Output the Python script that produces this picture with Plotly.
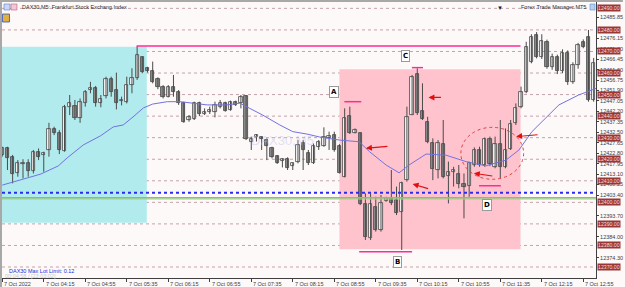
import plotly.graph_objects as go

# ---------------- data ----------------
opens = [12421.9,12425.0,12421.2,12413.8,12418.0,12418.1,12414.7,12423.2,12421.9,12424.3,
         12433.9,12432.0,12424.0,12444.1,12444.7,12439.0,12445.9,12452.1,12452.9,12445.9,
         12449.3,12457.1,12452.1,12446.8,12446.7,12454.4,12457.5,12467.3,12462.2,12461.1,
         12457.1,12453.7,12449.0,12453.3,12451.3,12446.2,12438.2,12438.5,12445.9,12441.0,
         12442.1,12442.1,12444.4,12445.9,12442.8,12446.7,12445.9,12449.3,12428.2,12430.1,
         12430.1,12428.9,12425.0,12421.6,12419.3,12420.1,12416.8,12418.9,12427.7,12423.0,
         12418.4,12425.8,12426.1,12429.7,12431.2,12426.1,12411.9,12440.0,12432.3,12432.0,
         12399.1,12383.3,12398.0,12387.1,12400.7,12401.8,12401.1,12395.6,12410.3,12440.5,
         12459.5,12442.5,12437.4,12427.4,12415.0,12427.0,12412.2,12414.2,12413.1,12408.5,
         12407.6,12417.3,12424.3,12417.3,12429.2,12416.5,12427.3,12416.2,12424.6,12436.6,
         12444.4,12451.3,12465.2,12477.5,12467.6,12474.5,12463.0,12467.5,12461.0,12469.5,
         12456.0,12463.5,12474.5,12476.9,12447.5]
highs = [12425.8,12425.8,12422.0,12419.6,12420.0,12420.0,12424.3,12425.0,12423.5,12436.9,
         12435.1,12433.5,12445.2,12449.8,12447.5,12448.2,12452.1,12455.9,12454.0,12449.8,
         12458.3,12458.3,12460.2,12449.0,12458.3,12462.2,12472.5,12467.6,12462.9,12465.3,
         12458.0,12454.4,12454.4,12459.1,12452.1,12446.7,12440.5,12446.7,12446.7,12443.6,
         12444.4,12446.7,12447.5,12446.7,12447.2,12447.2,12449.8,12449.8,12430.5,12431.7,
         12430.5,12429.7,12425.8,12421.9,12420.4,12420.9,12418.4,12428.9,12428.9,12424.3,
         12427.3,12428.9,12434.8,12432.8,12432.8,12427.0,12443.6,12444.4,12434.3,12432.3,
         12404.2,12404.2,12402.6,12403.4,12402.6,12415.0,12407.3,12409.6,12444.4,12459.1,
         12462.2,12455.2,12439.7,12429.7,12428.9,12438.2,12418.9,12416.5,12417.3,12413.4,
         12418.9,12425.5,12425.8,12430.1,12430.5,12430.5,12438.2,12434.3,12438.2,12445.9,
         12453.7,12474.5,12478.0,12479.0,12478.0,12475.5,12469.0,12468.5,12471.0,12470.5,
         12465.0,12474.0,12475.6,12480.0,12467.0]
lows = [12421.2,12415.0,12408.8,12411.9,12411.1,12411.9,12413.4,12419.6,12414.2,12421.2,
        12431.2,12422.4,12423.5,12440.5,12438.2,12436.9,12444.4,12450.6,12444.4,12444.1,
        12448.2,12449.0,12443.1,12445.0,12445.9,12450.6,12456.8,12459.9,12460.2,12455.2,
        12452.5,12448.2,12448.7,12449.0,12445.2,12436.9,12437.4,12438.2,12440.0,12440.5,
        12441.0,12439.4,12443.6,12442.1,12442.5,12444.7,12443.6,12428.9,12424.3,12428.2,
        12424.3,12419.6,12420.4,12417.8,12416.2,12415.0,12415.0,12418.1,12415.0,12417.3,
        12417.8,12424.3,12425.8,12424.3,12423.5,12413.4,12411.6,12431.7,12432.0,12398.7,
        12382.5,12382.5,12386.4,12386.4,12400.3,12398.7,12394.1,12377.9,12409.6,12440.5,
        12440.5,12438.2,12427.4,12410.3,12411.1,12411.1,12399.5,12407.3,12406.5,12392.6,
        12402.6,12416.5,12416.5,12416.5,12416.8,12415.8,12411.1,12415.8,12424.3,12435.9,
        12443.6,12450.6,12464.5,12466.8,12466.5,12462.0,12461.5,12459.5,12460.0,12454.5,
        12455.0,12462.0,12471.5,12446.7,12446.7]
closes = [12425.0,12420.4,12413.1,12418.1,12418.3,12414.7,12423.2,12420.9,12423.0,12433.9,
          12432.0,12424.3,12444.1,12445.9,12439.0,12446.7,12451.3,12452.9,12445.9,12447.8,
          12457.1,12451.3,12445.9,12447.5,12454.4,12457.5,12468.4,12460.6,12461.1,12456.0,
          12453.7,12449.0,12453.7,12451.3,12445.9,12437.4,12439.4,12445.9,12441.0,12442.1,
          12442.8,12445.2,12446.2,12442.5,12446.7,12445.2,12449.0,12429.2,12429.2,12431.2,
          12429.2,12426.1,12421.2,12418.1,12420.1,12416.1,12418.1,12426.6,12424.3,12418.1,
          12426.1,12428.1,12430.5,12430.8,12424.3,12413.7,12439.0,12432.0,12433.5,12399.1,
          12384.0,12399.1,12387.1,12399.8,12401.8,12399.5,12394.9,12409.1,12439.4,12458.3,
          12441.3,12438.5,12428.1,12415.3,12427.7,12411.9,12414.2,12415.0,12408.5,12407.3,
          12418.1,12424.3,12417.3,12429.2,12417.8,12427.3,12416.2,12424.3,12436.3,12443.6,
          12451.3,12472.2,12476.5,12467.6,12475.0,12463.0,12467.5,12461.0,12469.5,12456.0,
          12463.5,12473.0,12472.2,12447.5,12464.6]

# moving average (bar index, value)
ma_idx = [0,3.5,7.4,10.8,12.5,15.6,18.9,21.4,23.3,25.2,27.2,29,30.4,31.8,34.3,36.8,39.5,43.3,
          45.8,47.7,50.2,53.5,56,58.7,61.2,65,68.8,70.8,74,76.5,78.4,81.7,85.5,89.4,93.2,97.1,
          99.6,102.1,103.4,107.3,111.1,114.6]
ma_val = [12408.0,12410.4,12413.1,12416.9,12420.6,12426.6,12430.8,12435.0,12435.9,12439.6,
          12443.8,12445.6,12446.1,12446.7,12446.7,12446.0,12445.2,12445.2,12446.0,12443.6,
          12440.5,12435.9,12432.8,12431.7,12430.3,12428.9,12428.1,12423.5,12417.3,12413.7,
          12417.3,12422.4,12421.9,12418.9,12416.9,12419.6,12424.3,12432.8,12435.9,12445.2,
          12449.8,12453.0]

time_idx = [0,8,16,24,32,40,48,56,64,72,80,88,96,104,112]
time_labels = ["7 Oct 2022","7 Oct 04:15","7 Oct 04:55","7 Oct 05:35","7 Oct 06:15",
               "7 Oct 06:55","7 Oct 07:35","7 Oct 08:15","7 Oct 08:55","7 Oct 09:35",
               "7 Oct 10:15","7 Oct 10:55","7 Oct 11:35","7 Oct 12:15","7 Oct 12:55"]

# visible price scale labels (those hidden under the level boxes omitted)
price_ticks = [12374.30,12384.00,12393.70,12403.40,12408.25,
               12413.10,12417.95,12422.80,12427.65,12432.50,12437.35,12442.20,12447.05,
               12451.90,12456.75,12461.60,12466.45,12471.30,12476.15,12485.85]
level_lines = [12370,12380,12390,12400,12410,12420,12430,12440,12450,12460,12470,12480,12490]

blue_level = 12404.5
green_level = 12402.15
cyan_zone = dict(x0=-0.5, x1=27.86, y0=12390.55, y1=12472.2)
pink_zone = dict(x0=65.0, x1=99.9, y0=12378.2, y1=12461.7)
top_line = dict(x0=25.9, x1=99.9, y=12472.5)
marks_lines = {"A": (65.95, 69.2, 12446.7), "C": (78.96, 81.1, 12462.5),
               "B": (68.8, 79.0, 12377.1), "D": (91.9, 96.1, 12407.7)}
marks_labels = {"A": (63.9, 12451.3), "C": (77.7, 12467.9), "D": (93.5, 12398.8), "B": (76.1, 12372.3)}
arrows = [(70.1, 12425.07, 23, -2), (82.15, 12448.7, 14, 0), (79.1, 12408.5, 17, 5),
          (90.9, 12413.5, 20, 3), (99.05, 12430.5, 23, -2)]
ellipse = dict(x0=88.4, x1=100.5, y0=12410.7, y1=12434.8)

# ---------------- figure ----------------
W, H = 625, 287
ML, MR, MT, MB = 2, 27, 2, 9
PW, PH = W - ML - MR, H - MT - MB
def px(x):  # pixel -> paper x (decorations only)
    return (x - ML) / PW
def py(y):
    return 1 - (y - MT) / PH

fig = go.Figure()
idx = list(range(len(opens)))

# wicks
wx, wy = [], []
for i in idx:
    wx += [i, i, None]
    wy += [lows[i], highs[i], None]
fig.add_trace(go.Scatter(x=wx, y=wy, mode="lines", line=dict(color="#4a4a4a", width=1),
                         hoverinfo="skip", showlegend=False))

up = [i for i in idx if closes[i] >= opens[i]]
dn = [i for i in idx if closes[i] < opens[i]]
for sel, fill in ((up, "#ffffff"), (dn, "#909090")):
    fig.add_trace(go.Bar(
        x=sel,
        base=[min(opens[i], closes[i]) for i in sel],
        y=[max(abs(closes[i] - opens[i]), 0.4) for i in sel],
        width=0.62, marker=dict(color=fill, line=dict(color="#404040", width=0.8)),
        showlegend=False, hoverinfo="skip"))

fig.add_trace(go.Scatter(x=ma_idx, y=ma_val, mode="lines",
                         line=dict(color="#7272e0", width=1), showlegend=False, hoverinfo="skip"))

shapes = []
shapes.append(dict(type="rect", xref="x", yref="y", layer="below", line=dict(width=0),
                   fillcolor="#b1ebee", **cyan_zone))
shapes.append(dict(type="rect", xref="x", yref="y", layer="below", line=dict(width=0),
                   fillcolor="#ffc3cd", **pink_zone))
for lv in level_lines:
    shapes.append(dict(type="line", xref="paper", yref="y", x0=0, x1=1, y0=lv, y1=lv,
                       layer="below", line=dict(color="#c4a2aa", width=1, dash="dot")))
shapes.append(dict(type="line", xref="paper", yref="y", x0=0, x1=1, y0=green_level - 0.6,
                   y1=green_level - 0.6, line=dict(color="#d8b890", width=1)))
shapes.append(dict(type="line", xref="paper", yref="y", x0=0, x1=1, y0=green_level,
                   y1=green_level, line=dict(color="#6ccf6c", width=1.5)))
shapes.append(dict(type="line", xref="paper", yref="y", x0=0, x1=1, y0=blue_level,
                   y1=blue_level, line=dict(color="#2b2bf0", width=2, dash="dot")))
shapes.append(dict(type="line", xref="x", yref="y", x0=top_line["x0"], x1=top_line["x1"],
                   y0=top_line["y"], y1=top_line["y"], line=dict(color="#ff2a95", width=1.5)))
for k, (a, b, v) in marks_lines.items():
    shapes.append(dict(type="line", xref="x", yref="y", x0=a, x1=b, y0=v, y1=v,
                       line=dict(color="#ff2a95", width=1.5)))
shapes.append(dict(type="circle", xref="x", yref="y", line=dict(color="#e04040", width=1, dash="dot"),
                   **ellipse))
# window frame bits
shapes.append(dict(type="rect", xref="paper", yref="paper", x0=px(0), x1=px(W), y0=py(0), y1=py(2),
                   line=dict(width=0), fillcolor="#a8a8a8"))
shapes.append(dict(type="rect", xref="paper", yref="paper", x0=px(0), x1=px(2), y0=py(0), y1=py(287),
                   line=dict(width=0), fillcolor="#a8a8a8"))
shapes.append(dict(type="rect", xref="paper", yref="paper", x0=px(4), x1=px(10), y0=py(4), y1=py(10),
                   line=dict(color="#5a7ad0", width=0.6), fillcolor="#c8d8f8"))
shapes.append(dict(type="rect", xref="paper", yref="paper", x0=px(11), x1=px(17), y0=py(4), y1=py(10),
                   line=dict(color="#c05a7a", width=0.6), fillcolor="#f0c8d8"))
shapes.append(dict(type="rect", xref="paper", yref="paper", x0=px(2.5), x1=px(9.5), y0=py(14), y1=py(22),
                   line=dict(color="#3050c0", width=0.8), fillcolor="#e0b040"))
shapes.append(dict(type="rect", xref="paper", yref="paper", x0=px(592), x1=px(597), y0=py(4), y1=py(10),
                   line=dict(color="#5a8ad0", width=0.6), fillcolor="#b8d0f0"))

ann = []
for i, t in zip(time_idx, time_labels):
    ann.append(dict(x=i, y=0, xref="x", yref="paper", text=t, showarrow=False, xanchor="left",
                    yanchor="top", xshift=0, yshift=-1, font=dict(size=5.5, color="#404040")))
for lv in level_lines:
    ann.append(dict(x=1, y=lv, xref="paper", yref="y", text=f"{lv:.2f}", showarrow=False,
                    xanchor="left", yanchor="middle", xshift=1, bgcolor="#993636", borderpad=0,
                    font=dict(size=5.2, color="#f6dede")))
for k, (xv, yv) in marks_labels.items():
    ann.append(dict(x=xv, y=yv, xref="x", yref="y", text=f"<b>{k}</b>", showarrow=False,
                    bgcolor="#ffffff", bordercolor="#9a9a9a", borderwidth=1, borderpad=1,
                    font=dict(size=7, color="#000000", family="DejaVu Sans")))
for (xv, yv, ax, ay) in arrows:
    ann.append(dict(x=xv, y=yv, xref="x", yref="y", ax=ax, ay=ay, axref="pixel", ayref="pixel",
                    text="", showarrow=True, arrowhead=2, arrowsize=1, arrowwidth=1.2,
                    arrowcolor="#e01010"))
ann.append(dict(x=px(20), y=py(7), xref="paper", yref="paper", text="DAX30,M5: Frankfurt Stock Exchang Index",
                showarrow=False, xanchor="left", yanchor="middle", font=dict(size=5.5, color="#303030")))
ann.append(dict(x=px(590), y=py(7), xref="paper", yref="paper", text="Forex Trade Manager MT5",
                showarrow=False, xanchor="right", yanchor="middle", font=dict(size=5.5, color="#303030")))
ann.append(dict(x=px(507), y=py(3), xref="paper", yref="paper", text="▼", showarrow=False,
                font=dict(size=6, color="#202020")))
ann.append(dict(x=px(283), y=py(140), xref="paper", yref="paper", text="DAX30,M5", showarrow=False,
                font=dict(size=13, color="rgba(190,190,235,0.45)")))
ann.append(dict(x=px(3), y=py(275.5), xref="paper", yref="paper", text="00:04:58 / [23:03:02]",
                showarrow=False, xanchor="left", yanchor="middle", font=dict(size=5.5, color="#c8c8c8")))
ann.append(dict(x=px(7), y=py(271), xref="paper", yref="paper", text="DAX30 Max Lot Limit: 0.12",
                showarrow=False, xanchor="left", yanchor="middle", font=dict(size=5.5, color="#2a2ae0")))

fig.update_layout(
    width=W, height=H, margin=dict(l=ML, r=MR, t=MT, b=MB),
    paper_bgcolor="#fdf9f9", plot_bgcolor="#fdf9f9",
    barmode="overlay", bargap=0, showlegend=False,
    font=dict(family="Liberation Sans, Arial, sans-serif"),
    shapes=shapes, annotations=ann,
    xaxis=dict(range=[-0.05, 114.45], showgrid=False, zeroline=False, showline=True,
               linecolor="#404040", linewidth=1, tickvals=time_idx, ticks="outside",
               ticklen=3, tickcolor="#404040", showticklabels=False, fixedrange=True),
    yaxis=dict(range=[12364.9, 12492.95], side="right", showgrid=False, zeroline=False,
               showline=True, linecolor="#404040", linewidth=1, tickvals=price_ticks,
               ticktext=[f"{v:.2f}" for v in price_ticks], ticks="outside", ticklen=2,
               tickcolor="#404040", tickfont=dict(size=5.5, color="#404040"), fixedrange=True),
)

fig.write_html("out.html")
